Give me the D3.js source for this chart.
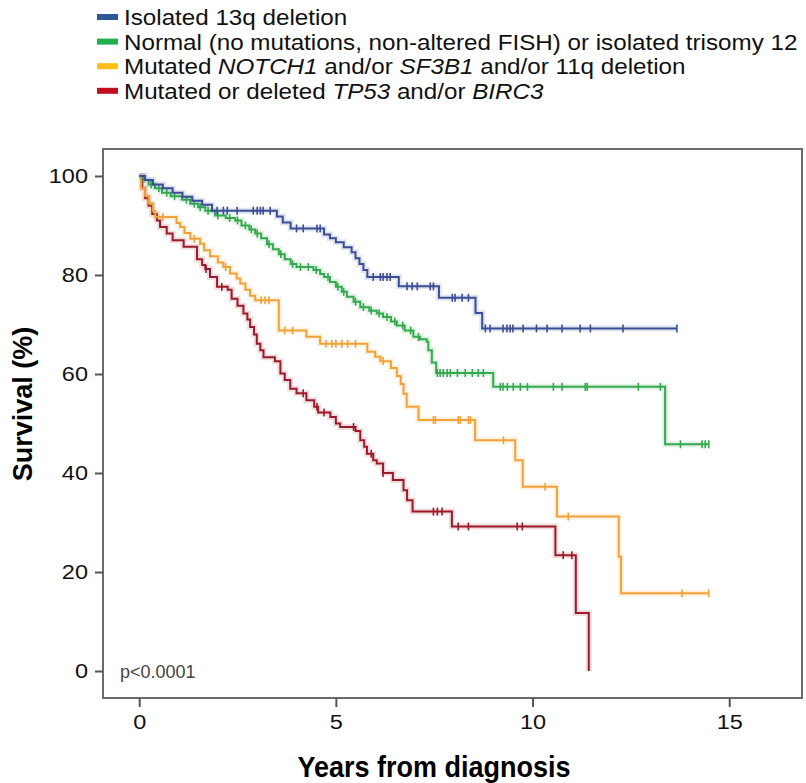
<!DOCTYPE html>
<html>
<head>
<meta charset="utf-8">
<script src="https://cdn.jsdelivr.net/npm/d3@7/dist/d3.min.js"></script>
<style>
  html, body { margin: 0; padding: 0; background: #fff; }
  svg { display: block; }
  text { font-family: "Liberation Sans", Arial, Helvetica, sans-serif; }
</style>
</head>
<body>
<svg id="chart" width="806" height="783"></svg>
<script>
// Kaplan–Meier survival by genetic risk group: each step array holds [years, survival %]
// at the start of each level; the last level runs on to the end time of the series.
const seriesNames = [
  "Isolated 13q deletion",
  "Normal (no mutations, non-altered FISH) or isolated trisomy 12",
  "Mutated NOTCH1 and/or SF3B1 and/or 11q deletion",
  "Mutated or deleted TP53 and/or BIRC3"
];

const stepsLowRisk = [[0,100],[0.15,99.2],[0.35,98.3],[0.6,97.5],[0.85,96.6],[1.1,95.8],[1.35,95],[1.6,94.2],
  [1.85,93],[3.5,91.8],[3.65,90.6],[3.85,89.4],[4.7,88.2],[4.85,87.4],[5.0,86.6],[5.2,85.6],[5.4,84.6],
  [5.5,83.4],[5.6,82.2],[5.7,81],[5.8,79.6],[6.6,77.7],[7.62,75.4],[8.55,72.3],[8.72,69.2]];
const endLowRisk = 13.67;
const censorLowRisk = [1.98,2.14,2.24,2.49,2.9,3.0,3.08,3.15,3.33,4.0,4.17,4.52,4.6,5.95,6.13,6.2,6.3,6.38,
  6.81,6.94,7.07,7.4,7.48,7.96,8.03,8.21,8.37,8.8,8.92,9.25,9.35,9.43,9.5,9.76,10.1,10.37,10.75,11.21,11.47,12.3,13.67];

const stepsIntermediate = [[0,100],[0.1,99.2],[0.24,98.3],[0.4,97.5],[0.58,96.6],[0.8,95.9],[1.09,95.2],[1.3,94.4],
  [1.5,93.7],[1.68,93],[1.93,92],[2.2,91.5],[2.44,91],[2.6,90],[2.8,89.2],[2.95,88.4],[3.1,87.4],[3.25,86.2],
  [3.4,85.2],[3.55,84.2],[3.7,83.2],[3.85,82.2],[4.0,81.6],[4.43,81],[4.6,80.2],[4.7,79.6],[4.85,78.6],[5.0,77.6],
  [5.15,76.6],[5.28,75.6],[5.45,74.6],[5.62,73.5],[5.85,72.8],[6.04,72.2],[6.2,71.5],[6.4,70.6],[6.55,69.8],
  [6.75,68.8],[6.97,67.5],[7.14,67],[7.31,66.5],[7.35,64.8],[7.44,62.3],[7.55,60.2],[9.0,57.4],[13.37,45.8]];
const endIntermediate = 14.48;
const censorIntermediate = [0.3,0.5,0.7,0.9,1.2,1.4,1.55,1.75,2.0,2.3,2.5,2.7,2.85,3.0,3.3,3.6,3.9,4.1,4.3,4.5,
  4.8,5.05,5.2,5.5,5.7,5.9,6.1,6.3,6.5,6.7,6.9,7.1,7.58,7.65,7.73,7.83,7.91,8.09,8.29,8.47,8.62,8.75,
  9.18,9.25,9.36,9.51,9.69,9.87,10.53,10.75,11.34,11.39,12.69,13.25,13.76,14.31,14.39,14.48];

const stepsHighRisk = [[0,100],[0.05,97.5],[0.15,96],[0.25,94.5],[0.35,93],[0.41,91.7],[0.95,90.5],[1.04,89.7],
  [1.15,88.5],[1.3,87.3],[1.55,86.3],[1.65,85],[1.8,83.8],[2.0,82.5],[2.14,81.6],[2.31,80.3],[2.48,79.3],
  [2.57,78.3],[2.7,77],[2.82,75.8],[2.95,74.9],[3.55,68.8],[4.25,67.5],[4.6,66.1],[5.8,64.5],[6.0,63.5],
  [6.13,62.6],[6.4,61.2],[6.55,59.6],[6.65,58],[6.72,56],[6.8,53.4],[7.1,50.7],[8.54,46.6],[9.56,42.6],
  [9.75,37.2],[10.62,31.2],[12.19,23.1],[12.25,15.7]];
const endHighRisk = 14.48;
const censorHighRisk = [0.6,1.4,2.2,3.1,3.2,3.3,3.7,3.9,4.75,4.9,5.0,5.15,5.3,5.5,6.2,7.48,7.53,8.11,8.16,8.37,8.42,
  9.26,10.32,10.91,13.8,14.48];

const stepsVeryHighRisk = [[0,100],[0.08,97.5],[0.15,95.5],[0.24,94],[0.33,92.3],[0.45,91],[0.53,89.7],[0.7,88.4],
  [0.85,87],[1.13,85.7],[1.47,83.2],[1.6,82],[1.68,81.2],[1.8,79.6],[1.98,77.6],[2.25,77],[2.35,75.2],[2.5,73.8],
  [2.65,72.2],[2.75,71],[2.82,69.5],[2.92,68],[2.99,66.1],[3.08,64.8],[3.16,63.4],[3.45,62.6],[3.59,60.1],
  [3.7,58.8],[3.84,57],[4.0,56.1],[4.25,54.7],[4.45,53.4],[4.55,52.2],[4.86,51.3],[5.0,50],[5.11,49.3],
  [5.5,48.5],[5.62,46.6],[5.72,45.3],[5.79,43.9],[5.95,42.6],[6.04,41.9],[6.2,40],[6.45,38.6],[6.72,36.5],
  [6.81,34.5],[6.95,32.2],[7.95,29.2],[10.58,23.4],[11.1,11.7],[11.43,0]];
const endVeryHighRisk = 11.43;
const censorVeryHighRisk = [1.7,2.1,4.17,4.52,4.7,5.45,5.9,6.2,7.48,7.58,7.7,8.11,8.37,9.61,9.74,10.78,11.0];

const lineColors   = ["#3b4e95", "#34a94f", "#f0a23a", "#9c1b2b"];
const legendColors = ["#2f5597", "#22b04c", "#fcbf12", "#c00d1e"];

const xTicks = [0, 5, 10, 15];
const yTicks = [0, 20, 40, 60, 80, 100];

const svg = d3.select("#chart");

const x = d3.scaleLinear().domain([-0.92, 16.85]).range([103, 802]);
const y = d3.scaleLinear().domain([-5.45, 105.45]).range([698, 149]);

// Plot frame
svg.append("rect")
  .attr("x", x.range()[0]).attr("y", y.range()[1])
  .attr("width", x.range()[1] - x.range()[0])
  .attr("height", y.range()[0] - y.range()[1])
  .attr("fill", "none").attr("stroke", "#6b6b6b").attr("stroke-width", 2);

// Axes
const yAxis = svg.append("g")
  .attr("transform", `translate(${x.range()[0]},0)`)
  .call(d3.axisLeft(y).tickValues(yTicks).tickSize(8).tickPadding(7));
const xAxis = svg.append("g")
  .attr("transform", `translate(0,${y.range()[0]})`)
  .call(d3.axisBottom(x).tickValues(xTicks).tickSize(9).tickPadding(7));
[yAxis, xAxis].forEach(g => {
  g.select(".domain").remove();
  g.selectAll(".tick line").attr("stroke", "#555").attr("stroke-width", 2);
  g.selectAll(".tick text").attr("fill", "#111").style("font-size", "21px")
    .style("font-family", "'Liberation Sans', Arial, sans-serif");
});
// slightly wide lettering on the tick labels
yAxis.selectAll(".tick text").attr("x", null).attr("transform", "translate(-15,0) scale(1.12,1)");
xAxis.selectAll(".tick text").attr("transform", "scale(1.12,1)");

// Axis titles
svg.append("text")
  .attr("transform", "translate(434,777) scale(0.9,1)")
  .attr("text-anchor", "middle")
  .style("font-size", "30px").style("font-weight", "bold")
  .attr("fill", "#000")
  .text("Years from diagnosis");

svg.append("text")
  .attr("transform", "translate(32,404) rotate(-90)")
  .attr("text-anchor", "middle")
  .style("font-size", "27px").style("font-weight", "bold")
  .attr("fill", "#000")
  .text("Survival (%)");

svg.append("text")
  .attr("x", 120).attr("y", 678)
  .style("font-size", "18px").attr("fill", "#444")
  .text("p<0.0001");

// Survival curves
const allSeries = [
  { steps: stepsLowRisk,      end: endLowRisk,      censor: censorLowRisk },
  { steps: stepsIntermediate, end: endIntermediate, censor: censorIntermediate },
  { steps: stepsHighRisk,     end: endHighRisk,     censor: censorHighRisk },
  { steps: stepsVeryHighRisk, end: endVeryHighRisk, censor: censorVeryHighRisk }
];

const line = d3.line().x(d => x(d[0])).y(d => y(d[1])).curve(d3.curveStepAfter);

function survivalAt(steps, t) {
  let s = steps[0][1];
  for (const [ts, v] of steps) { if (ts <= t) s = v; else break; }
  return s;
}

// Draw the poorest-prognosis group first so the better groups sit on top
const plot = svg.append("g");
allSeries.slice().reverse().forEach((ser, ri) => {
  const i = allSeries.length - 1 - ri;
  const pts = ser.steps.concat([[ser.end, ser.steps[ser.steps.length - 1][1]]]);
  const g = plot.append("g");
  g.append("path").attr("d", line(pts))
    .attr("fill", "none").attr("stroke", lineColors[i])
    .attr("stroke-opacity", 0.15).attr("stroke-width", 6);
  g.append("path").attr("d", line(pts))
    .attr("fill", "none").attr("stroke", lineColors[i])
    .attr("stroke-width", 2);
  g.selectAll("line.censor").data(ser.censor).enter().append("line")
    .attr("class", "censor")
    .attr("x1", d => x(d)).attr("x2", d => x(d))
    .attr("y1", d => y(survivalAt(ser.steps, d)) - 4)
    .attr("y2", d => y(survivalAt(ser.steps, d)) + 4)
    .attr("stroke", lineColors[i]).attr("stroke-width", 1.6);
});

// Legend
const legend = svg.append("g");
seriesNames.forEach((name, i) => {
  const cy = 17 + i * 24.6;
  legend.append("rect")
    .attr("x", 97).attr("y", cy - 3).attr("width", 21).attr("height", 6)
    .attr("fill", legendColors[i]);
  const t = legend.append("text")
    .attr("transform", `translate(124,${cy + 8}) scale(1.1,1)`)
    .style("font-size", "22px").attr("fill", "#111");
  // italic gene names
  const parts = name.split(/(NOTCH1|SF3B1|TP53|BIRC3)/);
  parts.forEach(p => {
    if (!p) return;
    const span = t.append("tspan").text(p);
    if (/^(NOTCH1|SF3B1|TP53|BIRC3)$/.test(p)) span.style("font-style", "italic");
  });
});
</script>
</body>
</html>
